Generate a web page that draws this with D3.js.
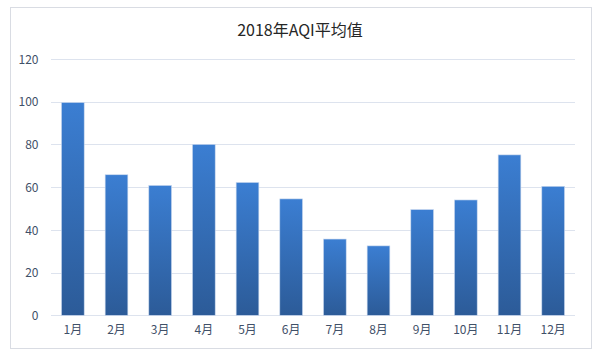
<!DOCTYPE html>
<html><head><meta charset="utf-8">
<script src="https://cdn.jsdelivr.net/npm/d3@7"></script>
<style>body{margin:0;background:#fff;}svg{display:block;}</style>
</head><body>
<svg id="c" width="600" height="358"></svg>
<script>
const title = "2018年AQI平均值";
const months = ["1月","2月","3月","4月","5月","6月","7月","8月","9月","10月","11月","12月"];
const values = [99.6, 65.8, 60.8, 80, 62.2, 54.5, 35.7, 32.5, 49.5, 54, 75.1, 60.4];
const yTicks = [0, 20, 40, 60, 80, 100, 120];

const svg = d3.select("#c");
const font = "'Noto Sans CJK SC','Noto Sans',sans-serif";
const m = {left: 51, right: 25, top: 59, bottom: 43};
const W = 600, H = 358;

svg.append("rect").attr("x", 10.5).attr("y", 7.5).attr("width", 581).attr("height", 341)
  .attr("fill", "#fff").attr("stroke", "#D9DCE3");

const x = d3.scaleBand().domain(months).range([m.left, W - m.right]).paddingInner(0.48).paddingOuter(0.24);
const y = d3.scaleLinear().domain([0, 120]).range([315.3, 59]);

const defs = svg.append("defs");
const g = defs.append("linearGradient").attr("id", "bg").attr("x1", 0).attr("y1", 0).attr("x2", 0).attr("y2", 1);
g.append("stop").attr("offset", "0%").attr("stop-color", "#3B7ED2");
g.append("stop").attr("offset", "100%").attr("stop-color", "#2C5B98");

// gridlines
svg.append("g").selectAll("line").data(yTicks).join("line")
  .attr("x1", m.left).attr("x2", W - m.right)
  .attr("y1", d => Math.round(y(d)) + 0.5).attr("y2", d => Math.round(y(d)) + 0.5)
  .attr("stroke", "#DDE3EE").attr("stroke-width", 1);

// y axis labels
const yAxis = d3.axisLeft(y).tickValues(yTicks).tickSize(0).tickPadding(0);
const ya = svg.append("g").attr("transform", "translate(38.5,0)").call(yAxis);
ya.select(".domain").remove();
ya.selectAll("text").attr("font-family", font).attr("font-size", 12).attr("fill", "#3F5068").attr("dy", "0.35em");

// x axis labels
const xAxis = d3.axisBottom(x).tickSize(0).tickPadding(0);
const xa = svg.append("g").attr("transform", "translate(0,325)").call(xAxis);
xa.select(".domain").remove();
xa.selectAll("text").attr("font-family", font).attr("font-size", 12).attr("fill", "#3F5068").attr("dy", "0.71em");

// bars
svg.append("g").selectAll("rect").data(values).join("rect")
  .attr("x", (d, i) => x(months[i]))
  .attr("width", x.bandwidth())
  .attr("y", d => y(d))
  .attr("height", d => y(0) - y(d))
  .attr("fill", "url(#bg)")
  .attr("stroke", "#C9D8EE").attr("stroke-width", 0.6);

svg.append("text").attr("x", 300).attr("y", 36).attr("text-anchor", "middle")
  .attr("font-family", font).attr("font-size", 16).attr("fill", "#262626").text(title);
</script>
</body></html>
